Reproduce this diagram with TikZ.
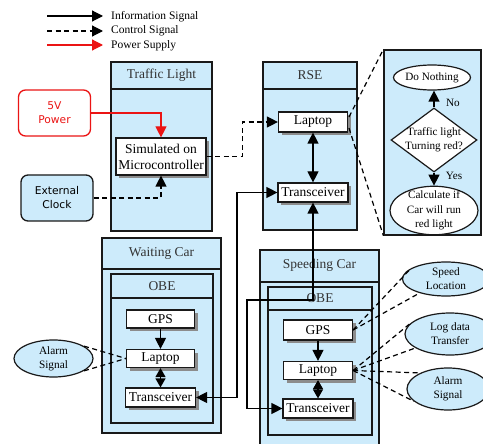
\documentclass[tikz,border=0pt]{standalone}
\usepackage{fontspec}
\setmainfont{Liberation Serif}
\newfontfamily\sansf{DejaVu Sans}
\usetikzlibrary{shapes.geometric,arrows.meta,shadows}
\definecolor{boxblue}{RGB}{205,235,251}
\definecolor{edge}{RGB}{25,25,25}
\definecolor{pwred}{RGB}{235,20,20}
\newcommand\bxf{\fontsize{13.5}{16}\selectfont}
\newcommand\fcf{\fontsize{11.2}{14.5}\selectfont}
\newcommand\elf{\fontsize{11.3}{13.8}\selectfont}
\newcommand\lgf{\fontsize{11.5}{14}\selectfont}
\newcommand\ssf{\sansf\fontsize{10.7}{14}\selectfont}
\tikzset{
  x=1pt, y=-1pt,
  panel/.style={draw=edge, fill=boxblue, line width=1.3pt, inner sep=0pt},
  hline/.style={draw=edge, line width=1.3pt},
  title/.style={font=\bxf, text=black!80, inner sep=0pt},
  wbox/.style={draw=edge, fill=white, line width=1.2pt, inner sep=0pt, font=\bxf, align=center,
     drop shadow={shadow xshift=3pt, shadow yshift=-3pt, fill=black!45, opacity=1}},
  oval/.style={ellipse, draw=edge, fill=boxblue, line width=1.2pt, inner sep=0pt, font=\elf, align=center},
  tipA/.tip={Triangle[length=11pt,width=11pt]},
  info/.style={draw=black, line width=1.2pt, -tipA},
  binfo/.style={draw=black, line width=1.2pt, tipA-tipA},
  ctrl/.style={draw=black, line width=1.2pt, dash pattern=on 5pt off 3.5pt},
  ctrlA/.style={ctrl, -tipA},
  power/.style={draw=pwred, line width=1.2pt, -{Triangle[length=11pt,width=11pt,fill=pwred]}},
  legtext/.style={font=\lgf, anchor=west, inner sep=0pt},
  fctext/.style={font=\fcf, inner sep=0pt, align=center},
  rbox/.style={rounded corners=7pt, line width=1.3pt, minimum width=72, minimum height=46, inner sep=0pt, font=\ssf, align=center}
}
\begin{document}
\begin{tikzpicture}
\path[use as bounding box, clip] (0,0) rectangle (483,444);
\fill[white] (0,0) rectangle (483,444);

% legend
\coordinate (la1) at (47,16); \coordinate (lb1) at (103,16);
\coordinate (la2) at (47,31); \coordinate (lb2) at (103,31);
\coordinate (la3) at (47,45); \coordinate (lb3) at (103,45);
\draw[info] (la1) -- (lb1);
\draw[ctrlA] (la2) -- (lb2);
\draw[power] (la3) -- (lb3);
\node[legtext] (lt1) at (111,16.5) {Information Signal};
\node[legtext] (lt2) at (111,31) {Control Signal};
\node[legtext] (lt3) at (111,45.5) {Power Supply};

% Traffic light
\node[panel, minimum width=101, minimum height=169] (tl) at (161.5,146.5) {};
\draw[hline] (111,89) -- (212,89);
\node[title] (tlt) at (161.5,75.5) {Traffic Light};
\node[wbox, minimum width=90, minimum height=37] (mc) at (161,156.5) {Simulated on\\Microcontroller};
\node[rbox, draw=pwred, fill=white, text=pwred] (pw) at (54.5,113) {5V\\Power};
\node[rbox, draw=edge, fill=boxblue] (clk) at (57,198) {External\\Clock};
\draw[power] (pw.east) -| (mc.north);
\draw[ctrlA] (clk.east) -| (mc.south);

% RSE
\node[panel, minimum width=94, minimum height=168] (rse) at (310,146) {};
\draw[hline] (263,89) -- (357,89);
\node[title] (rset) at (310,75.5) {RSE};
\node[wbox, minimum width=69, minimum height=20] (rlap) at (313,122) {Laptop};
\node[wbox, minimum width=70, minimum height=19] (rtr) at (313,192.5) {Transceiver};
\draw[binfo] (rlap) -- (rtr);
\draw[ctrlA] (mc.east) -- ++(36,0) |- (rlap.west);

% flowchart panel
\node[panel, minimum width=97, minimum height=185] (fc) at (432.5,142.5) {};
\node[ellipse, draw=edge, fill=white, line width=1.2pt, inner sep=0pt, font=\fcf, minimum width=77, minimum height=25] (dn) at (432,77.5) {Do Nothing};
\node[diamond, draw=edge, fill=white, line width=1.2pt, inner sep=-2pt, aspect=1.35, font=\fcf, align=center, minimum width=86, minimum height=64] (dia) at (434,140) {Traffic light\\Turning red?};
\node[ellipse, draw=edge, fill=white, line width=1.2pt, inner xsep=0pt, inner ysep=-2.5pt, font=\fcf, align=center, minimum width=88, minimum height=46] (calc) at (434,210.5) {Calculate if\\Car will run\\red light};
\draw[info] (dia.north) -- (dia.north |- dn.south);
\draw[info] (dia.south) -- (calc.north);
\node[fctext] (nol) at (453,103) {No};
\node[fctext] (yesl) at (454,176) {Yes};
\coordinate (z1) at (349,117);
\coordinate (z2) at (349,128);
\draw[ctrl] (z1) -- (fc.north west);
\draw[ctrl] (z2) -- (fc.south west);

% Waiting car
\node[panel, minimum width=119, minimum height=195] (wc) at (161.5,335.5) {};
\draw[hline] (102,269) -- (221,269);
\node[title] (wct) at (161.5,253.5) {Waiting Car};
\node[panel, minimum width=102, minimum height=149] (wobe) at (162,348.5) {};
\draw[hline] (111,298) -- (213,298);
\node[title] (wobet) at (162,286) {OBE};
\node[wbox, minimum width=68, minimum height=18] (wgps) at (160.5,319) {GPS};
\node[wbox, minimum width=68, minimum height=18] (wlap) at (160.5,358.5) {Laptop};
\node[wbox, minimum width=70, minimum height=19] (wtr) at (160.5,397.5) {Transceiver};
\draw[info] (wgps) -- (wlap);
\draw[line width=1.2pt, {Triangle[length=9pt,width=10pt]}-{Triangle[length=9pt,width=10pt]}] (wlap) -- (wtr);
\node[oval, minimum width=79, minimum height=37] (wal) at (53.5,358.5) {Alarm\\Signal};
\draw[ctrl] (wal.22) -- (wlap.west);
\draw[ctrl] (wal.-22) -- (wlap.west);

% Speeding car
\node[panel, minimum width=119, minimum height=200] (sc) at (319.5,350) {};
\draw[hline] (260,282) -- (379,282);
\node[title] (sct) at (319.5,265) {Speeding Car};
\node[panel, minimum width=104, minimum height=148] (sobe) at (320,361) {};
\draw[hline] (268,310) -- (372,310);
\node[title] (sobet) at (320,298.5) {OBE};
\node[wbox, minimum width=69, minimum height=20] (sgps) at (318,330) {GPS};
\node[wbox, minimum width=69, minimum height=18] (slap) at (318,370.5) {Laptop};
\node[wbox, minimum width=70, minimum height=19] (str) at (318,408.5) {Transceiver};
\draw[info] (sgps) -- (slap);
\draw[line width=1.2pt, {Triangle[length=9pt,width=10pt]}-{Triangle[length=9pt,width=10pt]}] (slap) -- (str);

% right ellipses
\node[oval, minimum width=87, minimum height=34] (sloc) at (446,279) {Speed\\Location};
\node[oval, minimum width=90, minimum height=42] (logd) at (450,334) {Log data\\Transfer};
\node[oval, minimum width=82, minimum height=42] (sal) at (448,389) {Alarm\\Signal};
\draw[ctrl] (sgps.east) -- (sloc.163);
\draw[ctrl] (sgps.east) -- (sloc.208);
\draw[ctrl] (slap.east) -- (logd.165);
\draw[ctrl] (slap.east) -- (logd.202);
\draw[ctrl] (slap.east) -- (sal.150);
\draw[ctrl] (slap.east) -- (sal.200);

% long connectors
\coordinate (wbend) at (237,300);
\coordinate (sbend) at (247,300);
\draw[binfo] (wtr.east) -| (wbend) |- (rtr.west);
\draw[binfo] (rtr.south) |- (sbend) |- (str.west);
\end{tikzpicture}
\end{document}
